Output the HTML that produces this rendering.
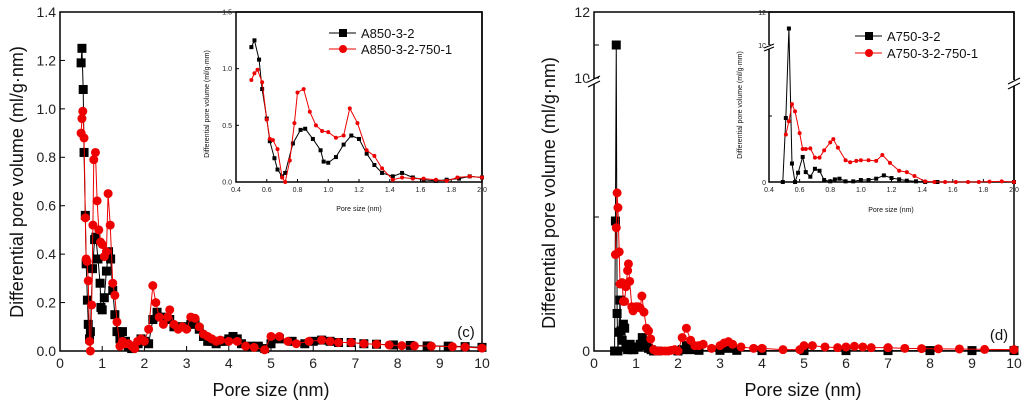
<!DOCTYPE html>
<html><head><meta charset="utf-8"><style>
body{margin:0;background:#fff}
svg{display:block;font-family:"Liberation Sans",sans-serif}
</style></head><body>
<svg id="s" width="1024" height="405"></svg>
<script>
// Panel c data
const cBlackX=[0.5,0.52,0.55,0.57,0.6,0.62,0.65,0.67,0.7,0.72,0.77,0.82,0.85,0.9,0.95,0.97,1.0,1.05,1.1,1.15,1.2,1.25,1.3,1.35,1.42,1.48,1.55,1.62,1.7,1.77,1.85,1.92,2.0,2.1,2.2,2.3,2.4,2.5,2.6,2.7,2.8,2.9,3.0,3.1,3.2,3.3,3.4,3.5,3.6,3.7,3.8,3.9,4.0,4.1,4.2,4.3,4.5,4.7,4.85,5.0,5.2,5.5,5.8,6.0,6.2,6.4,6.6,6.9,7.2,7.5,7.9,8.3,8.7,9.2,9.6,10];
const cBlackY=[1.19,1.25,1.08,0.82,0.56,0.36,0.21,0.11,0.05,0.08,0.34,0.46,0.47,0.38,0.28,0.18,0.17,0.22,0.33,0.41,0.38,0.25,0.15,0.08,0.05,0.08,0.04,0.02,0.01,0.02,0.03,0.05,0.04,0.03,0.13,0.16,0.14,0.13,0.13,0.1,0.1,0.1,0.1,0.11,0.12,0.09,0.06,0.04,0.04,0.03,0.04,0.04,0.05,0.06,0.05,0.03,0.02,0.02,0.01,0.03,0.05,0.04,0.03,0.04,0.045,0.04,0.035,0.035,0.03,0.028,0.025,0.023,0.021,0.02,0.018,0.015];
const cRedX=[0.5,0.52,0.54,0.57,0.6,0.62,0.64,0.67,0.7,0.72,0.75,0.78,0.8,0.84,0.88,0.92,0.96,1.0,1.05,1.1,1.14,1.19,1.25,1.3,1.35,1.42,1.48,1.55,1.62,1.7,1.77,1.84,1.92,2.0,2.1,2.2,2.27,2.35,2.45,2.55,2.6,2.7,2.8,2.9,3.0,3.1,3.2,3.3,3.4,3.5,3.6,3.7,3.8,4.0,4.2,4.4,4.6,4.85,5.0,5.2,5.4,5.6,5.9,6.2,6.4,6.6,6.9,7.2,7.5,7.8,8.1,8.4,8.8,9.3,9.6,10];
const cRedY=[0.9,0.96,0.99,0.88,0.55,0.38,0.37,0.29,0.04,0.0,0.19,0.52,0.79,0.82,0.62,0.5,0.45,0.44,0.39,0.41,0.65,0.52,0.28,0.23,0.12,0.02,0.04,0.03,0.03,0.02,0.01,0.04,0.05,0.04,0.09,0.27,0.2,0.14,0.11,0.14,0.17,0.11,0.09,0.1,0.09,0.14,0.135,0.1,0.07,0.06,0.05,0.04,0.045,0.04,0.04,0.02,0.015,0.005,0.06,0.06,0.04,0.03,0.04,0.045,0.04,0.035,0.035,0.03,0.028,0.025,0.022,0.021,0.02,0.018,0.016,0.012];
// Panel d data
const dBlackX=[0.49,0.51,0.53,0.55,0.57,0.59,0.62,0.64,0.67,0.7,0.73,0.76,0.8,0.83,0.86,0.9,0.95,1.0,1.05,1.1,1.15,1.2,1.25,1.3,1.36,1.42,1.5,2.0,2.1,2.2,2.3,2.5,3.0,3.2,3.4,4,5,6,7,8,9,10];
const dBlackY=[0,0.97,11,0.28,0,0.14,0.38,0.15,0.08,0.2,0.17,0.03,0.01,0.04,0.05,0.01,0.01,0.03,0.03,0.05,0.1,0.06,0.04,0.02,0.01,0,0,0,0.01,0.04,0.01,0.005,0.005,0.02,0.005,0.003,0.003,0.003,0.003,0.003,0.003,0.003];
const dRedX=[0.51,0.53,0.55,0.57,0.6,0.62,0.64,0.67,0.7,0.73,0.76,0.8,0.82,0.85,0.9,0.93,0.97,1.0,1.05,1.1,1.14,1.19,1.25,1.3,1.35,1.42,1.48,1.55,1.62,1.7,1.77,1.84,1.92,2.0,2.1,2.2,2.3,2.4,2.5,2.6,2.8,3.0,3.1,3.2,3.3,3.5,3.8,4.0,4.5,4.9,5.0,5.2,5.5,5.8,6.0,6.2,6.4,6.6,7.0,7.4,7.8,8.2,8.7,9.3,10];
const dRedY=[0.72,0.92,1.18,1.07,0.74,0.5,0.5,0.51,0.37,0.37,0.48,0.6,0.65,0.52,0.33,0.3,0.32,0.33,0.33,0.32,0.41,0.29,0.17,0.15,0.09,0.01,0,0,0,0,0,0.005,0.01,0,0.1,0.17,0.08,0.04,0.04,0.05,0.02,0.04,0.06,0.07,0.05,0.03,0.02,0.02,0.01,0.01,0.04,0.04,0.03,0.025,0.03,0.035,0.03,0.025,0.025,0.02,0.018,0.016,0.015,0.012,0.01];
const cMainYTicks=["0.0","0.2","0.4","0.6","0.8","1.0","1.2","1.4"];
const xMainTicks=["0","1","2","3","4","5","6","7","8","9","10"];
const cInsetYTicks=["0.0","0.5","1.0","1.5"];
const insetXTicks=["0.4","0.6","0.8","1.0","1.2","1.4","1.6","1.8","2.0"];

const S=document.getElementById('s');const NS='http://www.w3.org/2000/svg';
function E(tag,at,txt,p){const e=document.createElementNS(NS,tag);for(const k in at)e.setAttribute(k,at[k]);if(txt!=null)e.textContent=txt;(p||S).appendChild(e);return e;}
function lin(d0,d1,r0,r1){return v=>r0+(v-d0)*(r1-r0)/(d1-d0);}

function series(xs,ys,X,Y,color,shape,ms,lw,name,xmax){
  const g=E('g',{});
  
  
  let pts=[];for(let i=0;i<xs.length;i++){if(xs[i]<=xmax)pts.push([X(xs[i]),Y(ys[i])]);}
  const pl=E('polyline',{points:pts.map(p=>p.join(',')).join(' '),fill:'none',stroke:color,'stroke-width':lw},null,g);
  
  
  pts.forEach(p=>{let m;
    if(shape==='s')m=E('rect',{x:p[0]-ms/2,y:p[1]-ms/2,width:ms,height:ms,fill:color},null,g);
    else m=E('circle',{cx:p[0],cy:p[1],r:ms/2,fill:color},null,g);
    
    
  });
}
function frame(x0,x1,y0,y1,name){const r=E('rect',{x:x0,y:y0,width:x1-x0,height:y1-y0,fill:'none',stroke:'#000','stroke-width':1.5});}
function xTicks(labels,X,y,fs,len,name){labels.forEach(t=>{const v=parseFloat(t);E('line',{x1:X(v),x2:X(v),y1:y,y2:y-len,stroke:'#000'});const tx=E('text',{x:X(v),y:y+fs+3,'font-size':fs,'text-anchor':'middle',fill:'#222'},t);});}
function yTicks(labels,Y,x,fs,len,name){labels.forEach(t=>{const v=parseFloat(t);E('line',{x1:x,x2:x+len,y1:Y(v),y2:Y(v),stroke:'#000'});const tx=E('text',{x:x-4,y:Y(v)+fs*0.35,'font-size':fs,'text-anchor':'end',fill:'#222'},t);});}
function label(x,y,txt,fs,rot,name){const a={x:x,y:y,'font-size':fs,'text-anchor':'middle',fill:'#111'};if(rot)a.transform='rotate(-90 '+x+' '+y+')';const t=E('text',a,txt);}
function legend(x,y,txt,color,shape,name){const g=E('g',{});E('line',{x1:x,x2:x+27,y1:y,y2:y,stroke:color,'stroke-width':1},null,g);if(shape==='s')E('rect',{x:x+10,y:y-4,width:8,height:8,fill:color},null,g);else E('circle',{cx:x+14,cy:y,r:4,fill:color},null,g);E('text',{x:x+32,y:y+5,'font-size':13,fill:'#111'},txt,g);}

// ---- Panel c main
{const X=lin(0,10,60,482),Y=lin(0,1.4,351,12);
frame(60,482,12,351,'plot-c-frame');
xTicks(xMainTicks,X,351,14,5,'x-tick-label');yTicks(cMainYTicks,Y,60,14,5,'y-tick-label');
series(cBlackX,cBlackY,X,Y,'#000','s',9,1,'series-a850-3-2',10);
series(cRedX,cRedY,X,Y,'#e00','c',9,1,'series-a850-3-2-750-1',10);
label(271,396,'Pore size (nm)',18,false,'x-axis-title');
label(23,182,'Differential pore volume (ml/g·nm)',18,true,'y-axis-title');
label(466,337,'(c)',15,false,'panel-label-c');}
// ---- Panel c inset
{const X=lin(0.4,2.0,236,482),Y=lin(0,1.5,182,12);
frame(236,482,12,182,'inset-c-frame');
xTicks(insetXTicks,X,182,7,3,'inset-x-tick-label');yTicks(cInsetYTicks,Y,236,7,3,'inset-y-tick-label');
series(cBlackX,cBlackY,X,Y,'#000','s',4,1,'inset-a850-3-2',2.001);
series(cRedX,cRedY,X,Y,'#e00','c',4,1,'inset-a850-3-2-750-1',2.001);
label(359,211,'Pore size (nm)',7,false,'inset-x-axis-title');
label(209,104,'Differential pore volume (ml/g·mm)',7,true,'inset-y-axis-title');
legend(329,33,'A850-3-2','#000','s','legend-a850-3-2');legend(329,49,'A850-3-2-750-1','#e00','c','legend-a850-3-2-750-1');}
// ---- Panel d main (broken axis)
{const X=lin(0,10,594,1014);const Y=v=>v>=9?78-(v-10)*33:351-v*134;
frame(594,1014,12,351,'plot-d-frame');
xTicks(xMainTicks,X,351,14,5,'x-tick-label');
[[0,'0'],[1,''],[10,'10'],[11,''],[12,'12']].forEach(t=>{E('line',{x1:594,x2:599,y1:Y(t[0]),y2:Y(t[0]),stroke:'#000'});if(t[1])E('text',{x:590,y:Y(t[0])+5,'font-size':14,'text-anchor':'end',fill:'#222'},t[1]);});
E('rect',{x:588,y:79,width:14,height:5,fill:'#fff'});E('path',{d:'M588,82 L600,76 M588,87 L600,81',stroke:'#000','stroke-width':1.2,fill:'none'});
series(dBlackX,dBlackY,X,Y,'#000','s',9,1,'series-a750-3-2',10);
series(dRedX,dRedY,X,Y,'#e00','c',9,1,'series-a750-3-2-750-1',10);
label(803,396,'Pore size (nm)',18,false,'x-axis-title-d');
label(555,193,'Differential pore volume (ml/g·nm)',18,true,'y-axis-title-d');
label(999,340,'(d)',15,false,'panel-label-d');}
// ---- Panel d inset
{const X=lin(0.4,2.0,769,1014);const Y=v=>v>=9?45-(v-10)*16.5:182-v*66;
frame(769,1014,12,182,'inset-d-frame');
xTicks(insetXTicks,X,182,7,3,'inset-x-tick-label');
[[0,'0'],[1,''],[10,'10'],[12,'12']].forEach(t=>{E('line',{x1:769,x2:772,y1:Y(t[0]),y2:Y(t[0]),stroke:'#000'});if(t[1])E('text',{x:766,y:Y(t[0])+3,'font-size':7,'text-anchor':'end',fill:'#222'},t[1]);});
E('rect',{x:764,y:45,width:10,height:4,fill:'#fff'});E('path',{d:'M764,48 L774,44 M764,51 L774,47',stroke:'#000','stroke-width':1,fill:'none'});
E('rect',{x:1008,y:80,width:12,height:6,fill:'#fff'});E('path',{d:'M1008,84 L1020,78 M1008,89 L1020,83',stroke:'#000','stroke-width':1.2,fill:'none'});
series(dBlackX,dBlackY,X,Y,'#000','s',4,1,'inset-a750-3-2',2.001);
series(dRedX,dRedY,X,Y,'#e00','c',4,1,'inset-a750-3-2-750-1',2.001);
label(891,212,'Pore size (nm)',7,false,'inset-x-axis-title-d');
label(742,105,'Differential pore volume (ml/g·mm)',7,true,'inset-y-axis-title-d');
legend(855,36,'A750-3-2','#000','s','legend-a750-3-2');legend(855,53,'A750-3-2-750-1','#e00','c','legend-a750-3-2-750-1');}
</script>
</body></html>
